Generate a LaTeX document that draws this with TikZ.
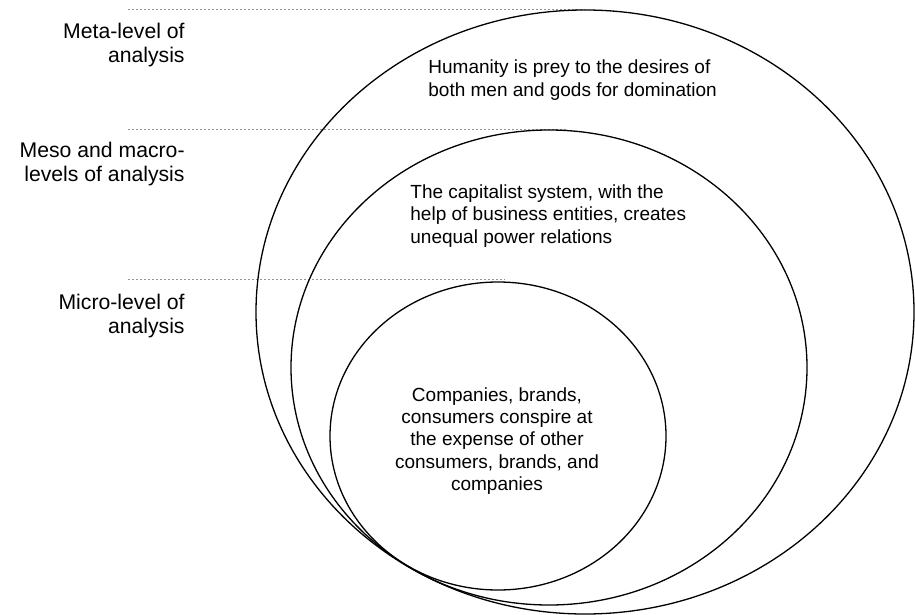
\documentclass[tikz,border=0pt]{standalone}
\usepackage{fontspec}
\setmainfont{Liberation Sans}
\usepackage{tikz}
\usetikzlibrary{positioning}
\newcommand{\txtsize}{\fontsize{10.6}{11.6}\selectfont}
\newcommand{\claimsize}{\fontsize{9.5}{11.1}\selectfont}
\tikzstyle{tier} = [anchor=east, 
align=right, 
inner sep=0pt, 
font=\txtsize]
\tikzstyle{claim} = [anchor=west, 
align=left, 
inner sep=0pt, 
font=\claimsize]
\tikzstyle{core} = [align=center, 
inner sep=0pt, 
font=\claimsize]
\tikzstyle{ring} = [line width=0.65pt]
\tikzstyle{guide} = [gray!85, line width=0.5pt, dash pattern=on 1.2pt off 0.8pt]

\begin{document}
\begin{tikzpicture}[x=0.5pt,y=-0.5pt]
\useasboundingbox (0,0) rectangle (915,615);

% levels of analysis
\node (meta) [tier] at (185,45) {Meta-level of\\analysis};
\node (meso) [tier] at (185,164) {Meso and macro-\\levels of analysis};
\node (micro) [tier] at (185,316) {Micro-level of\\analysis};

% guide lines
\coordinate (metaL) at (128,10);
\coordinate (metaR) at (585,10);
\coordinate (mesoL) at (128,130);
\coordinate (mesoR) at (567,130);
\coordinate (microL) at (128,279);
\coordinate (microR) at (505,279);
\draw [guide] (metaL) -- (metaR);
\draw [guide] (mesoL) -- (mesoR);
\draw [guide] (microL) -- (microR);

% rings
\coordinate (outerC) at (585,312);
\coordinate (middleC) at (549,367.5);
\coordinate (innerC) at (498,436);
\draw [ring] (outerC) ellipse [x radius=164.5pt, y radius=151pt];
\draw [ring] (middleC) ellipse [x radius=129pt, y radius=118.75pt];
\draw [ring] (innerC) ellipse [x radius=84pt, y radius=77pt];

\node (humanity) [claim] at (428,80) {Humanity is prey to the desires of\\both men and gods for domination};
\node (capital) [claim] at (410,216) {The capitalist system, with the\\help of business entities, creates\\unequal power relations};
\node (firms) [core] at (497,441) {Companies, brands,\\consumers conspire at\\the expense of other\\consumers, brands, and\\companies};
\end{tikzpicture}
\end{document}
